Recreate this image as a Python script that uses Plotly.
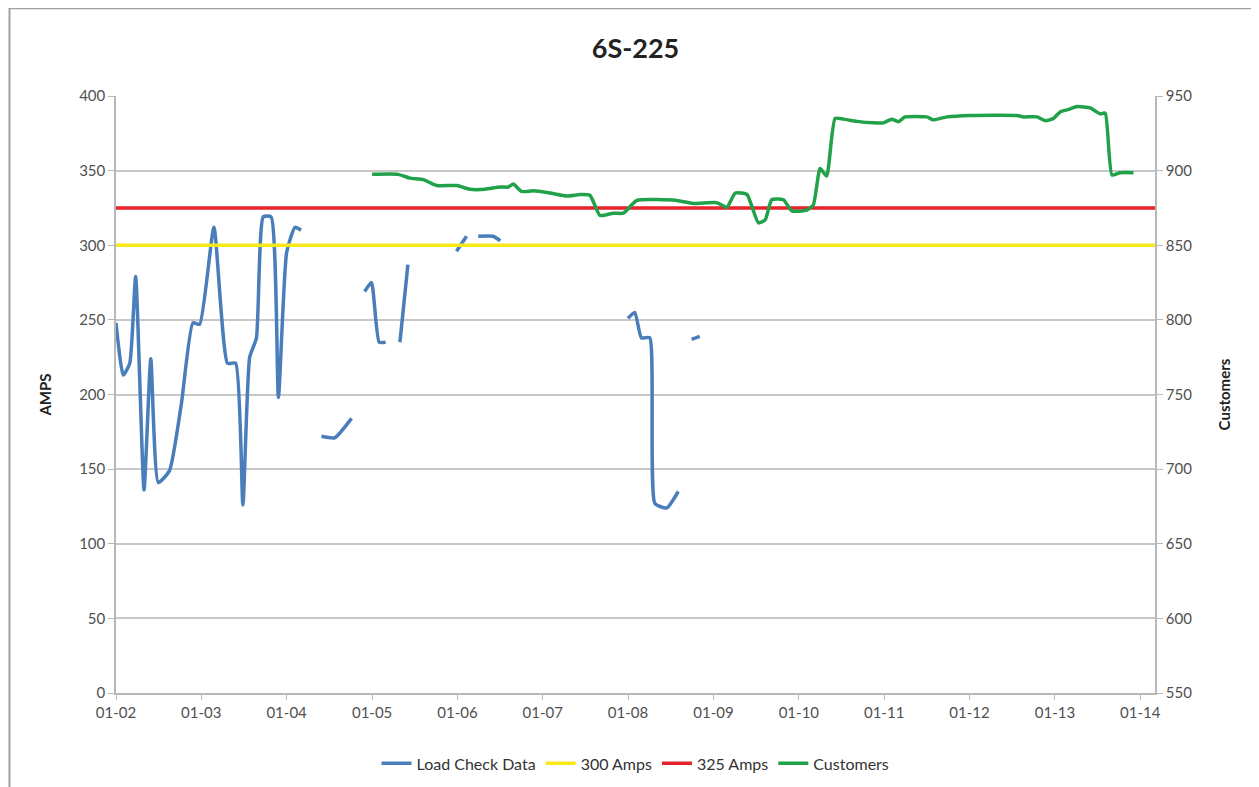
# 6S-225 load check chart: amps vs customers
import plotly.graph_objects as go

# Load Check Data (AMPS) - None marks a gap in the record
load_dates = [
    "2002-01-01", "2002-02-01", "2002-03-01", "2002-03-26", "2002-05-01", "2002-05-30",
    "2002-07-01", "2002-08-18", "2002-10-08", "2002-11-26", "2002-12-25", "2003-02-24",
    "2003-04-23", "2003-05-28", "2003-06-28", "2003-07-27", "2003-08-25", "2003-09-23",
    "2003-10-27", "2003-11-27", "2004-01-01", "2004-02-06", "2004-03-03", "2004-04-15",
    "2004-05-29", "2004-07-25", "2004-10-05", "2004-11-01",
    "2004-11-30", "2004-12-29", "2005-01-31", "2005-02-28", "2005-03-30",
    "2005-04-30", "2005-06-03", "2005-09-01",
    "2005-12-28", "2006-02-09", "2006-03-10",
    "2006-03-31", "2006-06-03", "2006-07-03", "2007-06-01",
    "2008-01-01", "2008-01-30", "2008-02-27", "2008-04-03", "2008-04-25", "2008-06-15",
    "2008-08-03", "2008-09-01",
    "2008-09-29", "2008-11-03",
]
load_amps = [
    248, 213, 221, 279, 136, 224,
    141, 149, 194, 248, 247, 312,
    221, 221, 126, 225, 238, 319,
    319, 198, 295, 312, 310, None,
    172, 171, 184, None,
    269, 275, 235, 235, None,
    235, 287, None,
    296, 306, None,
    306, 306, 303, None,
    251, 255, 238, 238, 127, 124,
    135, None,
    237, 239,
]

# Customers (right axis)
cust_dates = [
    "2005-01-01", "2005-04-22", "2005-06-12", "2005-08-08", "2005-10-04", "2005-12-29",
    "2006-02-24", "2006-04-29", "2006-07-02", "2006-08-07", "2006-08-28", "2006-10-03",
    "2006-11-22", "2007-02-01", "2007-04-14", "2007-06-10", "2007-07-22", "2007-09-03",
    "2007-10-30", "2007-12-12", "2008-02-08", "2008-07-28", "2008-10-06", "2009-01-15",
    "2009-02-27", "2009-04-04", "2009-05-24", "2009-06-14", "2009-07-12", "2009-08-10",
    "2009-09-07", "2009-10-27", "2009-12-02", "2010-02-04", "2010-03-04", "2010-04-02",
    "2010-04-30", "2010-06-05", "2010-07-10", "2010-09-06", "2010-11-16", "2010-12-29",
    "2011-02-02", "2011-03-03", "2011-04-01", "2011-07-02", "2011-07-31", "2011-09-26",
    "2012-01-04", "2012-07-22", "2012-08-19", "2012-10-16", "2012-11-21", "2012-12-26",
    "2013-01-24", "2013-03-01", "2013-04-05", "2013-06-01", "2013-06-22", "2013-07-13",
    "2013-08-04", "2013-09-02", "2013-10-07", "2013-12-03",
]
customers = [
    897.5, 897.5, 895, 894, 890, 890,
    887.5, 887.5, 889, 889, 891, 886,
    886.5, 885, 883, 884, 883.5, 870,
    871.5, 871.5, 880, 880, 878, 878.5,
    875.5, 885, 884, 876, 865, 867,
    880.5, 880.5, 873, 873.5, 877, 901.5,
    896.4, 935, 934.5, 933, 932, 932,
    934.5, 932.8, 936, 936, 934, 936,
    937, 937, 936, 936, 933.5, 935,
    939.5, 941, 943, 942, 940, 938,
    938.5, 897, 898.6, 898.6,
]

# threshold series
limit_dates = ["2002-01-01", "2014-03-05"]
amps_300 = [300, 300]
amps_325 = [325, 325]

BLUE = "#4a7ebb"
YELLOW = "#f7e81a"
RED = "#e8222a"
GREEN = "#21a24a"
FONT = "Lato, 'Open Sans', sans-serif"
GRID = "#c8c8c8"

fig = go.Figure()
fig.add_trace(go.Scatter(x=load_dates, y=load_amps, name="Load Check Data", mode="lines",
                         line=dict(color=BLUE, width=3.5, shape="spline", smoothing=0.5)))
fig.add_trace(go.Scatter(x=limit_dates, y=amps_300, name="300 Amps", mode="lines",
                         line=dict(color=YELLOW, width=3.5)))
fig.add_trace(go.Scatter(x=limit_dates, y=amps_325, name="325 Amps", mode="lines",
                         line=dict(color=RED, width=3.5)))
fig.add_trace(go.Scatter(x=cust_dates, y=customers, name="Customers", mode="lines", yaxis="y2",
                         line=dict(color=GREEN, width=3.5, shape="spline", smoothing=0.5)))

fig.update_layout(
    width=1259, height=787,
    margin=dict(l=108, r=112, t=88, b=102),
    paper_bgcolor="white", plot_bgcolor="white",
    font=dict(family=FONT, size=15, color="#505050"),
    title=dict(text="<b>6S-225</b>", x=0.5, xref="paper", xanchor="center",
               y=0.949, yref="container", yanchor="middle", font=dict(size=27, color="#222222")),
    showlegend=True,
    legend=dict(orientation="h", x=0.5, xanchor="center", y=-0.118, yanchor="middle",
                font=dict(size=16, color="#333333"), traceorder="normal"),
    xaxis=dict(type="date", range=["2002-01-01", "2014-03-05"], tick0="2002-01-01",
               dtick="M12", tickformat="%m-%y", showgrid=False, showline=True,
               linecolor="#b8b8b8", linewidth=1.5, ticks="outside", ticklen=5,
               tickcolor="#b8b8b8", zeroline=False),
    yaxis=dict(range=[0, 400], dtick=50, showgrid=True, gridcolor=GRID, gridwidth=1.5,
               showline=True, linecolor="#b8b8b8", linewidth=1.5, ticks="outside",
               ticklen=6, tickcolor="#b8b8b8", zeroline=False,
               title=dict(text="<b>AMPS</b>", standoff=24, font=dict(size=15, color="#222222"))),
    yaxis2=dict(range=[550, 950], dtick=50, overlaying="y", side="right", showgrid=False,
                showline=True, linecolor="#b8b8b8", linewidth=1.5, ticks="outside",
                ticklen=6, tickcolor="#b8b8b8", zeroline=False,
                title=dict(text="<b>Customers</b>", standoff=28, font=dict(size=15, color="#222222"))),
)

# outer chart border
fig.add_shape(type="rect", xref="paper", yref="paper", x0=-0.1025, x1=1.098, y0=-0.2, y1=1.147,
              line=dict(color="#a0a0a0", width=2), fillcolor="rgba(0,0,0,0)", layer="below")

fig.write_html("out.html")
